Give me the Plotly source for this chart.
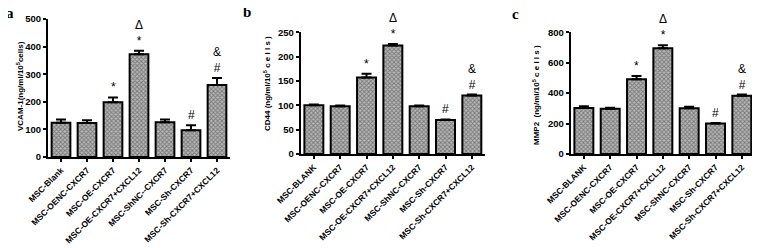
import plotly.graph_objects as go

cats_a = ["MSC-Blank", "MSC-OENC-CXCR7", "MSC-OE-CXCR7", "MSC-OE-CXCR7+CXCL12",
          "MSC-ShNC--CXCR7", "MSC-Sh-CXCR7", "MSC-Sh-CXCR7+CXCL12"]
cats_bc = ["MSC-BLANK", "MSC-OENC-CXCR7", "MSC-OE-CXCR7", "MSC-OE-CXCR7+CXCL12",
           "MSC-ShNC-CXCR7", "MSC-Sh-CXCR7", "MSC-Sh-CXCR7+CXCL12"]

vcam = [124, 123, 198, 372, 126, 97, 261]
vcam_err = [12, 10, 18, 13, 10, 18, 25]
cd44 = [100, 98, 157, 223, 98, 70, 120]
cd44_err = [1.5, 1.5, 8, 3, 1.5, 1, 2]
mmp2 = [302, 298, 492, 695, 300, 200, 383]
mmp2_err = [12, 6, 20, 20, 10, 4, 8]

marks = ["", "", "*", "Δ<br>*", "", "#", "&<br>#"]

# page body has an 8px default margin, so the figure is drawn 8px in from the corner
OFF = 8
W, H = 760 - OFF, 248 - OFF
FONT = "Liberation Sans, Arial, sans-serif"


def px(x):
    return (x - OFF) / W


def py(y):
    return 1 - (y - OFF) / H


panels = [
    dict(cats=cats_a, vals=vcam, err=vcam_err, x0=48, x1=230, y0=157, y1=19,
         rng=[0, 500], dtick=100, title="VCAM-1(ng/ml/10<sup>5</sup>cells)",
         tx=20, ty=86, label="a", lx=10, ly=13),
    dict(cats=cats_bc, vals=cd44, err=cd44_err, x0=300.7, x1=485, y0=154, y1=32.3,
         rng=[0, 250], dtick=50, title="CD44 (ng/ml/10<sup>5</sup> c e l l s )",
         tx=267, ty=84, label="b", lx=247, ly=12),
    dict(cats=cats_bc, vals=mmp2, err=mmp2_err, x0=570.7, x1=755, y0=154, y1=32.3,
         rng=[0, 800], dtick=200, title="MMP2  (ng/ml/10<sup>5</sup> c e l l s )",
         tx=536, ty=95, label="c", lx=515, ly=14),
]

fig = go.Figure()
annotations = []
layout = {}
for i, p in enumerate(panels):
    n = "" if i == 0 else str(i + 1)
    xa, ya = "x" + n, "y" + n
    fig.add_trace(go.Bar(
        x=p["cats"], y=p["vals"], xaxis=xa, yaxis=ya, width=0.72,
        marker=dict(color="#9a9a9a", line=dict(color="black", width=2),
                    pattern=dict(shape="x", size=3, solidity=0.5,
                                 fgcolor="#3a3a3a", bgcolor="#b8b8b8")),
        error_y=dict(type="data", array=p["err"], arrayminus=[0] * 7, symmetric=False,
                     color="black", thickness=2, width=5),
        showlegend=False,
    ))
    layout["xaxis" + n] = dict(
        domain=[px(p["x0"]), px(p["x1"])], anchor=ya, showline=True, linecolor="black",
        linewidth=2, ticks="outside", ticklen=3, tickwidth=1.5, tickcolor="black",
        tickangle=-45, tickfont=dict(family=FONT, size=8.5, color="black", weight="bold"),
        showgrid=False, zeroline=False, range=[-0.5, 6.5], fixedrange=True,
        automargin=False)
    layout["yaxis" + n] = dict(
        domain=[py(p["y0"]), py(p["y1"])], anchor=xa, range=p["rng"], dtick=p["dtick"],
        showline=True, linecolor="black", linewidth=2, ticks="outside", ticklen=3,
        tickwidth=1.5, tickcolor="black", showgrid=False, zeroline=False,
        automargin=False,
        tickfont=dict(family=FONT, size=9.5, color="black", weight="bold"))
    for j, m in enumerate(marks):
        if m:
            annotations.append(dict(
                x=p["cats"][j], y=p["vals"][j] + p["err"][j], xref=xa, yref=ya,
                text=m, showarrow=False, yanchor="bottom", yshift=1,
                font=dict(family=FONT, size=12, color="black")))
    annotations.append(dict(
        x=px(p["tx"]), y=py(p["ty"]), xref="paper", yref="paper", text=p["title"],
        textangle=-90, showarrow=False, xanchor="center", yanchor="middle",
        font=dict(family=FONT, size=8, color="black", weight="bold")))
    annotations.append(dict(
        x=px(p["lx"]), y=py(p["ly"]), xref="paper", yref="paper", text=p["label"],
        showarrow=False, xanchor="center", yanchor="middle",
        font=dict(family="Liberation Serif, Times New Roman, serif", size=15,
                  color="black", weight="bold")))

fig.update_layout(
    width=W, height=H, margin=dict(l=0, r=0, t=0, b=0),
    paper_bgcolor="white", plot_bgcolor="white", bargap=0.28,
    annotations=annotations, **layout)

fig.write_html("out.html")
